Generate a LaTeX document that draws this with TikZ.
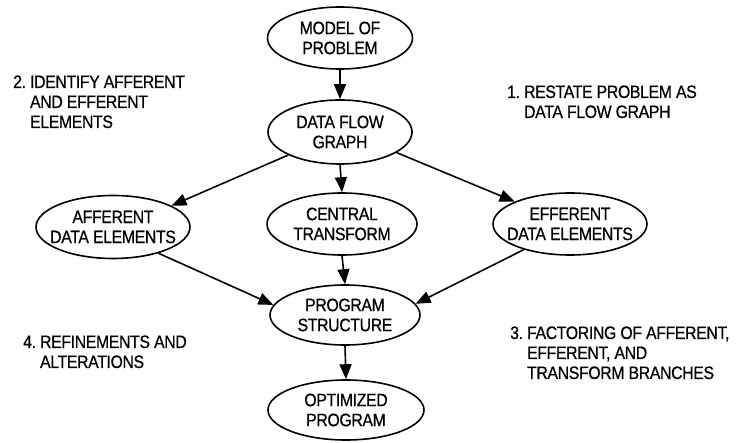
\documentclass[tikz,border=0pt]{standalone}
\usepackage{fontspec}
\setmainfont[FakeStretch=0.88, LetterSpace=-2, FakeBold=0.6]{Liberation Sans}
\usetikzlibrary{shapes.geometric,arrows.meta}

\tikzset{
  lbl/.style={font=\fontsize{18}{20}\selectfont, inner sep=0pt},
  bubble/.style={draw, ellipse, line width=1.6pt, inner sep=0pt},
  flow/.style={line width=1.6pt, -{Triangle[width=12pt,length=15pt]}},
  note/.style={lbl, anchor=base west}
}

% step caption with hanging indent after the number
\newcommand{\stepnote}[2]{\begin{tabular}[t]{@{}l@{\ }l@{}}#1&#2\end{tabular}}

\begin{document}
\begin{tikzpicture}[x=1pt,y=-1pt]
  \useasboundingbox (0,0) rectangle (737,443);

  % process stages
  \node[bubble, minimum width=145pt, minimum height=62pt,
        label={[lbl,align=center]center:MODEL OF\\PROBLEM}] (model) at (340,38) {};
  \node[bubble, minimum width=144pt, minimum height=64pt,
        label={[lbl,align=center]center:DATA FLOW\\GRAPH}] (dfg) at (340,132) {};
  \node[bubble, minimum width=154pt, minimum height=63pt,
        label={[lbl,align=center]center:AFFERENT\\DATA ELEMENTS}] (aff) at (113,227) {};
  \node[bubble, minimum width=150pt, minimum height=62pt,
        label={[lbl,align=center]center:CENTRAL\\TRANSFORM}] (ctr) at (342,224) {};
  \node[bubble, minimum width=154pt, minimum height=62pt,
        label={[lbl,align=center]center:EFFERENT\\DATA ELEMENTS}] (eff) at (570,224) {};
  \node[bubble, minimum width=150pt, minimum height=60pt,
        label={[lbl,align=center]center:PROGRAM\\STRUCTURE}] (ps) at (345,315) {};
  \node[bubble, minimum width=156pt, minimum height=60pt,
        label={[lbl,align=center]center:OPTIMIZED\\PROGRAM}] (opt) at (346,410) {};

  % connectors
  \draw[flow] (model.south) -- (dfg.north);
  \draw[flow] (dfg.south) -- (ctr.north);
  \draw[flow] (dfg.204) -- (aff.20);
  \draw[flow] (dfg.-20) -- (eff.158);
  \draw[flow] (ctr.south) -- (ps.north);
  \draw[flow] (aff.-30) -- (ps.172);
  \draw[flow] (eff.209) -- (ps.9);
  \draw[flow] (ps.south) -- (opt.north);

  % step captions
  \node[note] (s1) at (507,98) {\stepnote{1.}{RESTATE PROBLEM AS\\&DATA FLOW GRAPH}};
  \node[note] (s2) at (13,88) {\stepnote{2.}{IDENTIFY AFFERENT\\&AND EFFERENT\\&ELEMENTS}};
  \node[note] (s3) at (510,339) {\stepnote{3.}{FACTORING OF AFFERENT,\\&EFFERENT, AND\\&TRANSFORM BRANCHES}};
  \node[note] (s4) at (23,348) {\stepnote{4.}{REFINEMENTS AND\\&ALTERATIONS}};
\end{tikzpicture}
\end{document}
